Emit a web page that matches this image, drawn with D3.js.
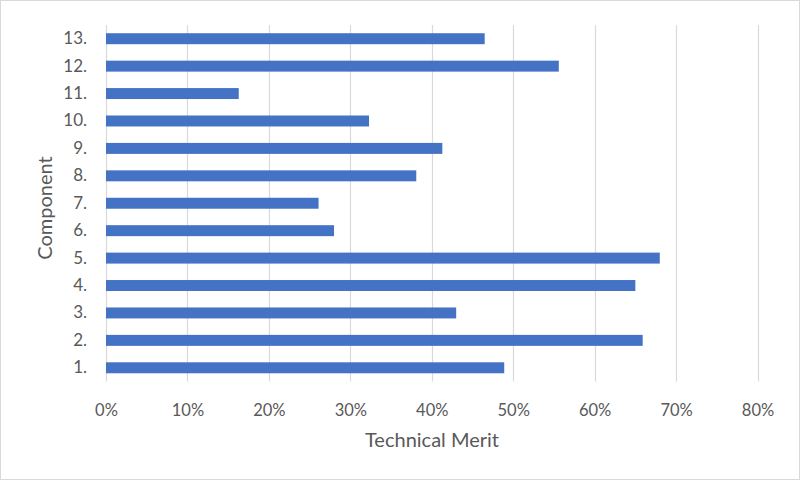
<!DOCTYPE html>
<html>
<head>
<meta charset="utf-8">
<script src="https://cdn.jsdelivr.net/npm/d3@7"></script>
<style>
  html, body { margin: 0; padding: 0; background: #fff; }
  svg { display: block; }
  text { font-family: Lato, "Open Sans", sans-serif; fill: #595959; }
</style>
</head>
<body>
<svg id="chart" width="800" height="480"></svg>
<script>
const categories = ["1.", "2.", "3.", "4.", "5.", "6.", "7.", "8.", "9.", "10.", "11.", "12.", "13."];
const values = [0.489, 0.659, 0.430, 0.650, 0.680, 0.280, 0.261, 0.381, 0.413, 0.323, 0.163, 0.556, 0.465];
const xTicks = [0, 0.1, 0.2, 0.3, 0.4, 0.5, 0.6, 0.7, 0.8];
const xTitle = "Technical Merit";
const yTitle = "Component";

(function () {
const svg = d3.select("#chart");
const W = 800, H = 480;
const mLeft = 106, mRight = 757.5, mTop = 25, mBottom = 381.5;

svg.append("rect").attr("x", 0.5).attr("y", 0.5).attr("width", W - 1).attr("height", H - 1)
  .attr("fill", "#fff").attr("stroke", "#d9d9d9");

const x = d3.scaleLinear().domain([0, 0.8]).range([mLeft, mRight]);
const y = d3.scaleBand().domain(categories.slice().reverse()).range([mTop, mBottom]).paddingInner(0.6).paddingOuter(0.3);

// gridlines
svg.append("g").selectAll("line").data(xTicks).join("line")
  .attr("x1", d => Math.round(x(d)) + 0.5).attr("x2", d => Math.round(x(d)) + 0.5)
  .attr("y1", mTop).attr("y2", mBottom)
  .attr("stroke", "#d9d9d9").attr("stroke-width", 1.2);

// bars
svg.append("g").selectAll("rect").data(categories).join("rect")
  .attr("x", x(0))
  .attr("y", d => y(d))
  .attr("width", (d, i) => x(values[i]) - x(0))
  .attr("height", y.bandwidth())
  .attr("fill", "#4472C4");

// x axis labels
const xAxis = d3.axisBottom(x).tickValues(xTicks).tickFormat(d3.format(".0%")).tickSize(0).tickPadding(0);
const gx = svg.append("g").attr("transform", `translate(0, 404)`).call(xAxis);
gx.select(".domain").remove();
gx.selectAll("text").attr("font-size", 16.5).attr("fill", "#595959").attr("font-family", "Lato, sans-serif");

// y axis labels
const yAxis = d3.axisLeft(y).tickSize(0).tickPadding(0);
const gy = svg.append("g").attr("transform", `translate(87, 0)`).call(yAxis);
gy.select(".domain").remove();
gy.selectAll("text").attr("font-size", 17).attr("fill", "#595959").attr("font-family", "Lato, sans-serif");

// titles
svg.append("text").attr("x", 432).attr("y", 447)
  .attr("text-anchor", "middle").attr("font-size", 20).text(xTitle);
svg.append("text").attr("transform", `translate(52, 208) rotate(-90)`)
  .attr("text-anchor", "middle").attr("font-size", 20).text(yTitle);
})();
</script>
</body>
</html>
